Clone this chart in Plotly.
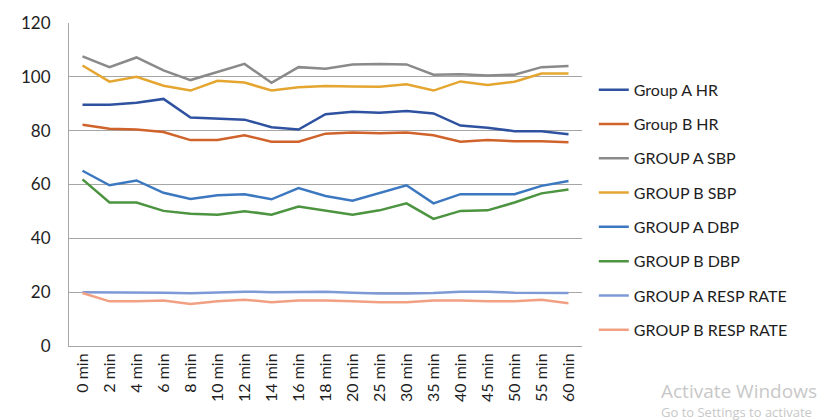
import plotly.graph_objects as go

times = ["0 min", "2 min", "4 min", "6 min", "8 min", "10 min", "12 min", "14 min", "16 min",
         "18 min", "20 min", "25 min", "30 min", "35 min", "40 min", "45 min", "50 min", "55 min", "60 min"]

group_a_hr = [89.6, 89.6, 90.4, 91.8, 84.9, 84.6, 84.1, 81.3, 80.4, 86.1, 87.0, 86.7, 87.3, 86.4, 81.9, 81.1, 79.8, 79.8, 78.7]
group_b_hr = [82.2, 80.7, 80.4, 79.5, 76.5, 76.5, 78.3, 75.9, 75.9, 78.9, 79.3, 79.0, 79.3, 78.3, 75.9, 76.5, 76.1, 76.1, 75.7]
group_a_sbp = [107.6, 103.6, 107.2, 102.4, 98.8, 101.8, 104.8, 97.8, 103.6, 103.0, 104.6, 104.8, 104.6, 100.8, 101.0, 100.5, 100.8, 103.6, 104.0]
group_b_sbp = [104.2, 98.2, 100.0, 96.7, 94.9, 98.5, 97.9, 94.9, 96.1, 96.6, 96.4, 96.3, 97.2, 94.9, 98.3, 97.0, 98.2, 101.2, 101.2]
group_a_dbp = [65.1, 59.7, 61.5, 56.9, 54.6, 56.0, 56.4, 54.5, 58.7, 55.7, 54.0, 56.9, 59.7, 53.0, 56.4, 56.4, 56.4, 59.5, 61.3]
group_b_dbp = [61.9, 53.3, 53.3, 50.2, 49.1, 48.8, 50.1, 48.8, 51.8, 50.2, 48.8, 50.4, 53.0, 47.2, 50.2, 50.4, 53.3, 56.7, 58.1]
group_a_resp = [20.0, 20.0, 20.0, 19.8, 19.6, 19.8, 20.2, 20.0, 20.0, 20.2, 19.8, 19.5, 19.5, 19.7, 20.2, 20.2, 19.8, 19.7, 19.7]
group_b_resp = [19.7, 16.6, 16.6, 16.9, 15.6, 16.6, 17.2, 16.3, 16.9, 16.9, 16.6, 16.3, 16.3, 16.9, 16.9, 16.6, 16.6, 17.2, 15.9]

series = [
    ("Group A HR", group_a_hr, "#2F52A0"),
    ("Group B HR", group_b_hr, "#D0632B"),
    ("GROUP A SBP", group_a_sbp, "#8A8A8A"),
    ("GROUP B SBP", group_b_sbp, "#E4A630"),
    ("GROUP A DBP", group_a_dbp, "#3C78C0"),
    ("GROUP B DBP", group_b_dbp, "#4C9440"),
    ("GROUP A RESP RATE", group_a_resp, "#7E9AD6"),
    ("GROUP B RESP RATE", group_b_resp, "#F2A083"),
]

y_ticks = [0, 20, 40, 60, 80, 100, 120]

fig = go.Figure()
for i, (name, vals, color) in enumerate(series):
    fig.add_trace(go.Scatter(x=times, y=vals, name=name, mode="lines",
                             legendgroup=f"g{i}",
                             line=dict(color=color, width=2.5)))

font_family = "Lato, Carlito, Calibri, sans-serif"
text_color = "#1E1E1E"

fig.update_layout(
    width=821, height=420,
    margin=dict(l=69, r=239, t=16, b=74),
    paper_bgcolor="white", plot_bgcolor="white",
    font=dict(family=font_family, color=text_color),
    showlegend=True,
    legend=dict(x=1.023, y=0.846, xanchor="left", yanchor="top",
                font=dict(size=16, color=text_color, family=font_family),
                tracegroupgap=10.5, itemwidth=30, bgcolor="rgba(0,0,0,0)"),
    xaxis=dict(type="category", range=[-0.5, 18.5], tickangle=-90,
               tickfont=dict(size=16, color=text_color), showgrid=False,
               showline=True, linecolor="#A6A6A6", linewidth=1, ticks="",
               fixedrange=True),
    yaxis=dict(range=[0, 120], tickvals=y_ticks, showgrid=True,
               gridcolor="#A6A6A6", gridwidth=1, zeroline=False,
               showline=True, linecolor="#A6A6A6", linewidth=1,
               tickfont=dict(size=17, color=text_color), ticks="",
               ticklabelstandoff=14),
    annotations=[
        dict(text="Activate Windows", xref="paper", yref="paper", x=1.151, y=-0.14,
             xanchor="left", yanchor="middle", showarrow=False,
             font=dict(size=19, color="#C8C8C8", family="Open Sans, sans-serif")),
        dict(text="Go to Settings to activate", xref="paper", yref="paper", x=1.151, y=-0.205,
             xanchor="left", yanchor="middle", showarrow=False,
             font=dict(size=13, color="#C8C8C8", family="Open Sans, sans-serif")),
    ],
)

fig.write_html("out.html")
